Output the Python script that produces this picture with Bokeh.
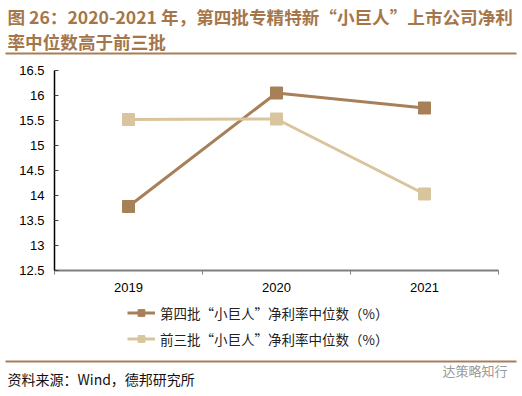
from bokeh.plotting import figure
from bokeh.models import Range1d, FixedTicker, Legend, LegendItem, Label, BoxAnnotation
from bokeh.embed import file_html
from bokeh.resources import INLINE

years = ["2019", "2020", "2021"]
batch4 = [13.78, 16.05, 15.75]
batch123 = [15.52, 15.53, 14.03]
y_ticks = [12.5, 13, 13.5, 14, 14.5, 15, 15.5, 16, 16.5]
title_lines = ["图 26：2020-2021 年，第四批专精特新“小巨人”上市公司净利",
               "率中位数高于前三批"]
legend_labels = ["第四批“小巨人”净利率中位数（%）", "前三批“小巨人”净利率中位数（%）"]
source_text = "资料来源：Wind，德邦研究所"
watermark = "达策略知行"

C1 = "#A78058"
C2 = "#D9C59D"
TC = "#A5764A"
RULE = "#A87D58"
CJK = "Noto Sans CJK SC"
LAT = "Liberation Sans"

# canvas and plotting-area geometry (pixels)
W, H = 522, 396
FL, FR, FT, FB = 54, 498, 70, 270
y_lo, y_hi = y_ticks[0], y_ticks[-1]
n = len(years)
ux = n / (FR - FL)
uy = (y_hi - y_lo) / (FB - FT)

p = figure(width=W, height=H, output_backend="svg", toolbar_location=None,
           x_range=Range1d(-FL * ux, n + (W - FR) * ux),
           y_range=Range1d(y_lo - (H - FB) * uy, y_hi + FT * uy),
           min_border=0, min_border_left=0, min_border_right=0,
           min_border_top=0, min_border_bottom=0)
p.title.visible = False
p.outline_line_color = None
p.grid.visible = False

xs = [i + 0.5 for i in range(n)]

xa = p.xaxis[0]
xa.fixed_location = y_lo
xa.bounds = (0, n)
xa.ticker = FixedTicker(ticks=xs, minor_ticks=list(range(n + 1)))
xa.major_label_overrides = {x: y for x, y in zip(xs, years)}
xa.major_tick_line_color = None
xa.major_tick_out = 0
xa.major_tick_in = 0
xa.minor_tick_out = 4
xa.minor_tick_in = 0
xa.minor_tick_line_color = "#7f7f7f"
xa.axis_line_color = "#7f7f7f"
xa.axis_line_width = 2
xa.major_label_text_font = LAT
xa.major_label_text_font_size = "13px"
xa.major_label_text_color = "#000000"
xa.major_label_standoff = 8

ya = p.yaxis[0]
ya.fixed_location = 0
ya.bounds = (y_lo, y_hi)
ya.ticker = FixedTicker(ticks=y_ticks, minor_ticks=[])
ya.major_label_overrides = {t: f"{t:g}" for t in y_ticks}
ya.major_tick_in = 4
ya.major_tick_out = 0
ya.major_tick_line_color = "#404040"
ya.axis_line_color = "#000000"
ya.axis_line_width = 1.5
ya.major_label_text_font = LAT
ya.major_label_text_font_size = "13px"
ya.major_label_text_color = "#000000"
ya.major_label_standoff = 10

l1 = p.line(xs, batch4, line_color=C1, line_width=3)
s1 = p.scatter(xs, batch4, marker="square", size=12, fill_color=C1, line_color=C1)
l2 = p.line(xs, batch123, line_color=C2, line_width=3)
s2 = p.scatter(xs, batch123, marker="square", size=12, fill_color=C2, line_color=C2)

legend = Legend(items=[LegendItem(label=legend_labels[0], renderers=[l1, s1]),
                       LegendItem(label=legend_labels[1], renderers=[l2, s2])],
                location=(127, H - 348.5), glyph_width=28, glyph_height=17, spacing=6,
                padding=0, margin=0, border_line_color=None, background_fill_alpha=0,
                label_standoff=5, label_text_font=CJK, label_text_font_size="13.5px",
                label_text_color="#222222")
p.add_layout(legend)

for i, t in enumerate(title_lines):
    p.add_layout(Label(x=7, y=H - 16 - 25 * i, x_units="screen", y_units="screen", text=t,
                       text_font=CJK, text_font_size="17.6px", text_font_style="bold",
                       text_color=TC, text_baseline="middle"))


def rule(y_top):
    p.add_layout(BoxAnnotation(left=5, right=516, top=H - y_top, bottom=H - y_top - 2,
                               left_units="screen", right_units="screen",
                               top_units="screen", bottom_units="screen",
                               fill_color=RULE, fill_alpha=1, line_color=None))


rule(52)
rule(360)

p.add_layout(Label(x=7, y=H - 378, x_units="screen", y_units="screen", text=source_text,
                   text_font=CJK, text_font_size="14px", text_color="#111111",
                   text_baseline="middle"))
p.add_layout(Label(x=442, y=H - 370, x_units="screen", y_units="screen", text=watermark,
                   text_font=CJK, text_font_size="13px", text_color="#999999",
                   text_baseline="middle"))

open("out.html", "w").write(file_html(p, INLINE))
